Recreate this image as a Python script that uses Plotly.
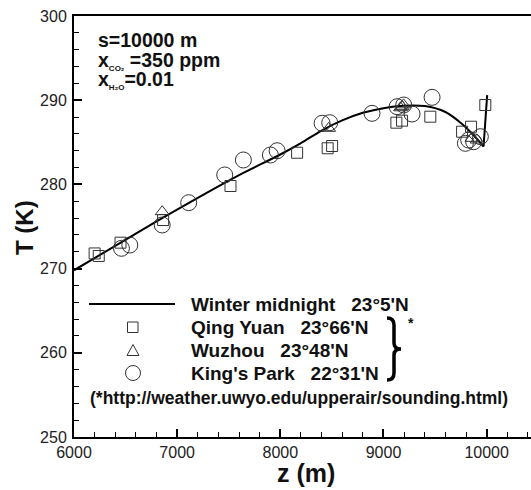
import plotly.graph_objects as go

# ---------------- data ----------------
curve_z = [6000, 6400, 6800, 7200, 7600, 8000, 8200, 8400, 8600, 8800, 9000, 9200, 9400, 9600, 9750, 9870, 9970, 10005]
curve_T = [269.8, 272.7, 275.6, 278.4, 281.1, 283.55, 284.9, 286.4, 287.6, 288.5, 289.05, 289.35, 289.3, 288.6, 287.3, 285.9, 284.5, 290.6]

qy_z = [6200, 6240, 6451, 6864, 7517, 8163, 8459, 8502, 9125, 9180, 9454, 9762, 9849, 9987]
qy_T = [271.8, 271.5, 273.08, 275.77, 279.81, 283.76, 284.29, 284.56, 287.33, 287.57, 288.04, 286.26, 286.85, 289.43]

wz_z = [6855, 8469, 9165, 9180, 9195, 9858, 9907]
wz_T = [276.76, 286.66, 289.1, 289.23, 289.45, 285.47, 285.27]

kp_z = [6460, 6541, 6855, 7112, 7461, 7642, 7904, 7969, 8405, 8479, 8889, 9132, 9196, 9277, 9471, 9794, 9826, 9874, 9939]
kp_T = [272.41, 272.80, 275.18, 277.83, 281.12, 282.90, 283.49, 284.00, 287.26, 287.33, 288.44, 289.23, 289.43, 288.36, 290.34, 284.88, 285.27, 285.07, 285.67]

legend_names = ["Winter midnight   23\u00b05'N", "Qing Yuan   23\u00b066'N",
                "Wuzhou   23\u00b048'N", "King's Park   22\u00b031'N"]
footnote = "(*http://weather.uwyo.edu/upperair/sounding.html)"
x_ticks = [6000, 7000, 8000, 9000, 10000]
x_labels = ["6000", "7000", "8000", "9000", "10000"]
y_ticks = [250, 260, 270, 280, 290, 300]
y_labels = ["250", "260", "270", "280", "290", "300"]

# ---------------- layout helpers ----------------
W, H = 531, 490
ML, MR, MT, MB = 74, 0, 16, 53
PW, PH = W - ML - MR, H - MT - MB


def PX(px):
    return (px - ML) / PW


def PY(py):
    return (H - MB - py) / PH


FONT = "Liberation Sans, Arial, sans-serif"
MK = "#333333"

fig = go.Figure()
fig.add_trace(go.Scatter(x=curve_z[:-1], y=curve_T[:-1], mode="lines",
                         line=dict(color="black", width=2, shape="spline", smoothing=0.8), showlegend=False))
fig.add_trace(go.Scatter(x=curve_z[-2:], y=curve_T[-2:], mode="lines",
                         line=dict(color="black", width=2), showlegend=False))
fig.add_trace(go.Scatter(x=qy_z, y=qy_T, mode="markers", showlegend=False,
                         marker=dict(symbol="square-open", size=11, color=MK, line=dict(width=1))))
fig.add_trace(go.Scatter(x=wz_z, y=wz_T, mode="markers", showlegend=False,
                         marker=dict(symbol="triangle-up-open", size=12, color=MK, line=dict(width=1))))
fig.add_trace(go.Scatter(x=kp_z, y=kp_T, mode="markers", showlegend=False,
                         marker=dict(symbol="circle-open", size=16, color=MK, line=dict(width=1))))

ann = []


def add_text(px, py, txt, size, xanchor="left", angle=0):
    ann.append(dict(xref="paper", yref="paper", x=PX(px), y=PY(py), text=txt, showarrow=False,
                    xanchor=xanchor, yanchor="middle", textangle=angle,
                    font=dict(family=FONT, size=size, color="#111", weight="bold")))


info = ["s=10000 m",
        "x<sub><span style='font-size:8px'>CO\u2082</span></sub> =350 ppm",
        "x<sub><span style='font-size:8px'>H\u2082O</span></sub>=0.01"]
for txt, py in zip(info, [40, 61, 80]):
    add_text(96, py, txt, 19.5)

for txt, py in zip(legend_names, [304, 327.5, 350, 373]):
    add_text(189, py, txt, 19)
add_text(406, 323, "*", 14)
add_text(88, 398, footnote, 17.5)
add_text(306, 473, "z (m)", 25, xanchor="center")
add_text(24, 228, "T (K)", 24, xanchor="center", angle=-90)

shapes = []
shapes.append(dict(type="line", xref="paper", yref="paper", x0=PX(89), x1=PX(175), y0=PY(304), y1=PY(304),
                   line=dict(color="black", width=2)))
shapes.append(dict(type="rect", xref="paper", yref="paper", x0=PX(127.5), x1=PX(138),
                   y0=PY(322), y1=PY(332.5), line=dict(color=MK, width=1)))
tri = "M {} {} L {} {} L {} {} Z".format(PX(127), PY(355.5), PX(139), PY(355.5), PX(133), PY(344.5))
shapes.append(dict(type="path", xref="paper", yref="paper", path=tri, line=dict(color=MK, width=1)))
shapes.append(dict(type="circle", xref="paper", yref="paper", x0=PX(125.5), x1=PX(140.5),
                   y0=PY(365.5), y1=PY(380.5), line=dict(color=MK, width=1)))
bp = [(387, 318), (394, 318), (394, 325), (394, 343), (394, 349), (401, 349), (394, 349), (394, 355),
      (394, 373), (394, 380), (387, 380)]
P = [(PX(a), PY(b)) for a, b in bp]
brace = ("M {0[0]} {0[1]} Q {1[0]} {1[1]} {2[0]} {2[1]} L {3[0]} {3[1]} Q {4[0]} {4[1]} {5[0]} {5[1]} "
         "Q {6[0]} {6[1]} {7[0]} {7[1]} L {8[0]} {8[1]} Q {9[0]} {9[1]} {10[0]} {10[1]}").format(*P)
shapes.append(dict(type="path", xref="paper", yref="paper", path=brace, line=dict(color="black", width=3.5)))

axis_common = dict(showline=True, linecolor="black", linewidth=2, ticks="inside", ticklen=8,
                   tickwidth=2, tickcolor="black", showgrid=False, zeroline=False,
                   tickfont=dict(family=FONT, size=16, color="#222"))

fig.update_layout(
    width=W, height=H, margin=dict(l=ML, r=MR, t=MT, b=MB, autoexpand=False),
    paper_bgcolor="white", plot_bgcolor="white",
    annotations=ann, shapes=shapes, showlegend=False,
    xaxis=dict(range=[6000, 10430], tickvals=x_ticks, ticktext=x_labels, mirror=True, ticklabelstandoff=0,
               minor=dict(ticks="inside", ticklen=5, tickwidth=1, tickcolor="black", dtick=200, tick0=6000),
               **axis_common),
    yaxis=dict(range=[250, 300], tickvals=y_ticks, ticktext=y_labels, ticklabelstandoff=2,
               minor=dict(ticks="inside", ticklen=5, tickwidth=1, tickcolor="black", dtick=2, tick0=250),
               **axis_common),
)

fig.write_html("out.html")
